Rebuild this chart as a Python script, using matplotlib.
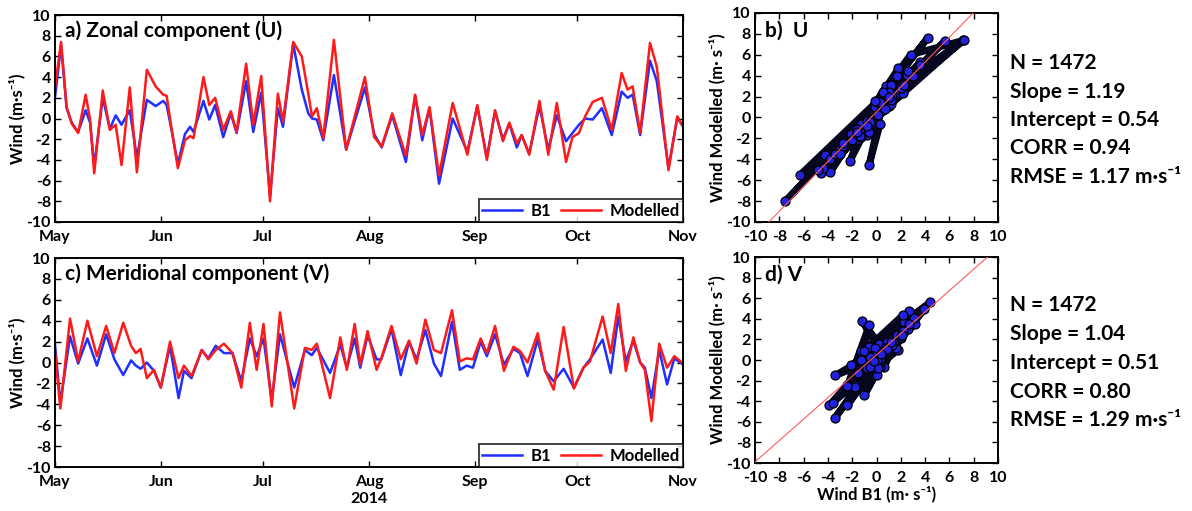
import numpy as np
import matplotlib
matplotlib.use('Agg')
import matplotlib.pyplot as plt
import matplotlib.dates as mdates

plt.rcParams['font.family'] = ['Lato', 'DejaVu Sans']
plt.rcParams['font.weight'] = 'bold'
plt.rcParams['axes.labelweight'] = 'bold'
plt.rcParams['axes.unicode_minus'] = False

# Zonal component (U): days since 2014-05-01, buoy B1 and model
u_day = [0.0, 1.8, 3.4, 4.9, 6.8, 9.0, 10.3, 11.5, 14.0, 16.1, 17.8, 19.5, 21.9, 24.0,
         26.9, 29.5, 31.7, 32.7, 34.2, 36.0, 38.1, 39.6, 40.6, 43.5, 45.2, 46.9, 49.3,
         51.5, 53.2, 56.0, 58.1, 60.4, 63.0, 65.3, 66.8, 69.8, 72.3, 74.2, 75.3, 76.7,
         78.6, 81.7, 85.3, 90.8, 93.5, 95.7, 98.8, 102.8, 105.5, 107.6, 109.7, 112.5,
         116.5, 120.8, 123.7, 126.5, 128.9, 131.2, 133.1, 135.3, 136.7, 138.9, 141.9,
         144.5, 147.0, 149.7, 151.6, 153.5, 155.3, 157.5, 160.2, 163.1, 166.0, 167.7,
         169.2, 171.4, 174.3, 176.3, 179.7, 182.3, 184.0]
u_mod = [3.0, 7.4, 1.1, -0.5, -1.4, 2.3, -0.1, -5.3, 2.7, -1.1, -0.6, -4.5, 3.0, -5.2,
         4.7, 3.1, 2.3, 2.2, -1.1, -4.8, -2.1, -1.7, -1.9, 4.0, 1.3, 2.0, -1.1,
         0.7, -1.3, 5.3, -0.6, 4.1, -8.0, 2.4, -0.3, 7.4, 6.0, 2.4, 0.2, 1.0,
         -1.9, 7.6, -3.0, 4.0, -1.8, -2.7, 0.5, -3.6, 2.3, -1.6, 1.1, -5.5,
         1.5, -3.5, 1.3, -4.0, 0.8, -2.2, -0.4, -2.4, -1.6, -3.5, 1.7,
         -3.5, 1.5, -4.2, -1.8, -1.4, 0.2, 1.6, 2.0, -1.1, 4.4, 2.8,
         3.1, -1.4, 7.3, 5.0, -5.0, 0.2, -0.8]
u_b1 = [2.0, 7.1, 1.0, -0.4, -1.3, 0.8, -0.4, -4.6, 2.0, -1.0, 0.3, -0.6, 0.8, -3.8,
        1.8, 1.2, 1.7, 1.3, -1.2, -4.4, -1.5, -0.8, -1.3, 1.7, -0.1, 1.3, -1.8,
        0.5, -1.4, 3.6, -1.3, 2.5, -7.5, 1.0, -0.8, 7.2, 2.8, 0.5, 0.0, -0.1,
        -2.1, 4.2, -3.0, 3.0, -1.5, -2.8, 0.3, -4.2, 2.2, -2.1, 1.0, -6.3,
        0.0, -3.2, 1.2, -3.8, 0.7, -2.0, -0.5, -2.8, -1.6, -3.4, 1.2,
        -3.0, 0.3, -2.2, -1.4, -0.6, 0.0, -0.1, 1.0, -1.6, 2.6, 2.0,
        2.3, -1.6, 5.6, 3.6, -4.8, 0.1, -0.8]

# Meridional component (V)
v_day = [0.0, 1.6, 4.4, 6.8, 9.5, 12.3, 15.0, 17.4, 20.0, 22.3, 23.7, 25.1, 26.9, 29.0,
         31.0, 33.7, 36.2, 37.8, 40.0, 43.0, 44.9, 47.1, 49.5, 52.0, 54.6, 57.1, 59.1,
         61.1, 63.5, 65.9, 70.1, 73.2, 75.2, 76.7, 80.6, 83.6, 85.5, 87.8, 89.4, 91.6,
         94.2, 95.6, 98.6, 101.3, 103.7, 105.9, 108.5, 111.0, 113.1, 116.3, 118.6,
         120.6, 122.4, 124.7, 126.5, 128.9, 131.5, 134.3, 136.2, 138.4, 141.4, 143.6,
         146.1, 149.0, 152.0, 154.8, 156.7, 160.4, 162.8, 165.0, 167.2, 169.4, 171.4,
         172.8, 174.7, 177.0, 179.3, 181.4, 184.0]
v_mod = [1.0, -4.4, 4.2, 0.1, 4.0, 0.6, 3.5, 0.9, 3.8, 1.6, 0.9, 1.3, -1.5, -0.7,
         -2.4, 2.0, -1.5, -0.3, -1.3, 1.2, 0.3, 1.2, 1.8, 0.9, -2.4, 3.8, -0.7,
         3.7, -4.2, 4.8, -4.4, 1.4, 1.2, 1.8, -3.4, 2.4, -0.7, 3.7, -0.2, 3.0,
         -0.7, 0.4, 3.5, 0.3, 2.1, -0.1, 4.1, 1.2, 0.9, 5.0, 0.1,
         0.4, 0.3, 2.3, 0.9, 3.5, -0.8, 1.5, 1.1, 0.0, 2.8, -0.8,
         -2.6, 3.4, -2.5, -0.5, 0.1, 4.4, 0.9, 5.6, -0.8, 2.4, 0.0,
         -0.7, -5.6, 1.8, -0.5, 0.6, -0.1]
v_b1 = [1.8, -3.9, 2.5, -0.1, 2.3, -0.3, 2.7, 0.3, -1.2, 0.2, -0.3, -0.6, 0.0, -0.8,
        -2.4, 1.6, -3.4, -0.8, -1.5, 1.2, 0.4, 1.6, 0.9, 0.9, -1.8, 2.3, 0.6,
        2.3, -3.6, 2.7, -2.4, 1.2, 0.7, 1.4, -1.0, 1.7, -0.5, 2.3, -0.5, 2.6,
        0.3, 0.3, 3.2, -1.2, 2.0, 0.3, 3.1, -0.1, -1.3, 3.9, -0.7,
        -0.3, -0.5, 2.0, 0.6, 2.7, -0.2, 1.3, 0.9, -1.3, 2.2, -0.8,
        -1.8, -0.6, -2.4, -0.5, 0.3, 2.2, -1.0, 4.4, 0.1, 2.1, 0.0,
        -0.5, -3.4, 1.2, -2.1, 0.4, -0.2]

# regression statistics shown next to the scatter plots
stats_u = ['N = 1472', 'Slope = 1.19', 'Intercept = 0.54', 'CORR = 0.94', 'RMSE = 1.17 m·s⁻¹']
stats_v = ['N = 1472', 'Slope = 1.04', 'Intercept = 0.51', 'CORR = 0.80', 'RMSE = 1.29 m·s⁻¹']
fit_u = (1.19, 0.54)
fit_v = (1.04, 0.51)

start = np.datetime64('2014-05-01T00')
end = np.datetime64('2014-11-01T00')


def to_dates(days):
    return start + np.round(np.array(days) * 24).astype('timedelta64[h]')


def style_axes(ax):
    for sp in ax.spines.values():
        sp.set_linewidth(1.4)
    ax.tick_params(direction='in', top=True, right=True, length=4, width=1,
                   labelsize=11.5, pad=3)
    ax.tick_params(axis='x', pad=6)
    ax.set_ylim(-10, 10)
    ax.set_yticks(np.arange(-10, 11, 2))


def time_panel(ax, days, b1, mod, title):
    d = to_dates(days)
    ax.plot(d, b1, color='#1f2fff', lw=1.8, label='B1')
    ax.plot(d, mod, color='#ff1a1a', lw=1.8, label='Modelled')
    ax.set_xlim(start, end)
    ax.xaxis.set_major_locator(mdates.MonthLocator())
    ax.xaxis.set_major_formatter(mdates.DateFormatter('%b'))
    style_axes(ax)
    ax.set_ylabel('Wind (m·s⁻¹)', fontsize=12, labelpad=1)
    ax.text(0.016, 0.925, title, transform=ax.transAxes, fontsize=15, va='center')
    leg = ax.legend(loc='lower right', ncol=2, fancybox=False, edgecolor='black',
                    borderaxespad=0, fontsize=12, handlelength=2.4,
                    columnspacing=0.6, borderpad=0.2, handletextpad=0.5)
    leg.get_frame().set_linewidth(1.3)


def scatter_panel(ax, b1, mod, fit, title):
    ax.plot(b1, mod, color='#07071f', lw=5, zorder=2, solid_capstyle='round')
    ax.scatter(b1, mod, s=42, facecolor='#2222dd', edgecolor='black', lw=0.9, zorder=3)
    xs = np.array([-10.0, 10.0])
    ax.plot(xs, fit[0] * xs + fit[1], color='#ff5a5a', lw=0.8, zorder=4)
    ax.set_xlim(-10, 10)
    ax.set_xticks(np.arange(-10, 11, 2))
    style_axes(ax)
    ax.set_ylabel('Wind Modelled (m· s⁻¹)', fontsize=12, labelpad=1)
    ax.text(0.04, 0.915, title, transform=ax.transAxes, fontsize=15, va='center')


fig = plt.figure(figsize=(11.92, 5.11), dpi=100)
ax_a = fig.add_axes([0.0461, 0.5656, 0.527, 0.405])
ax_c = fig.add_axes([0.0461, 0.0861, 0.527, 0.409])
ax_b = fig.add_axes([0.6334, 0.5656, 0.2039, 0.409])
ax_d = fig.add_axes([0.6334, 0.0939, 0.2039, 0.403])

time_panel(ax_a, u_day, u_b1, u_mod, 'a) Zonal component (U)')
time_panel(ax_c, v_day, v_b1, v_mod, 'c) Meridional component (V)')
ax_c.text(np.datetime64('2014-08-01T00'), -0.155, '2014', fontsize=11.5,
          ha='center', va='center', transform=ax_c.get_xaxis_transform())

scatter_panel(ax_b, u_b1, u_mod, fit_u, 'b)  U')
scatter_panel(ax_d, v_b1, v_mod, fit_v, 'd) V')
ax_d.set_xlabel('Wind B1 (m· s⁻¹)', fontsize=12, labelpad=0)

# statistics text
ys_u = [63, 92, 120, 148, 177]
ys_v = [305, 334, 363, 392, 420]
for txt, y in zip(stats_u, ys_u):
    fig.text(0.847, 1 - y / 511, txt, fontsize=15, va='center')
for txt, y in zip(stats_v, ys_v):
    fig.text(0.847, 1 - y / 511, txt, fontsize=15, va='center')

fig.savefig('out.png', dpi=100)
